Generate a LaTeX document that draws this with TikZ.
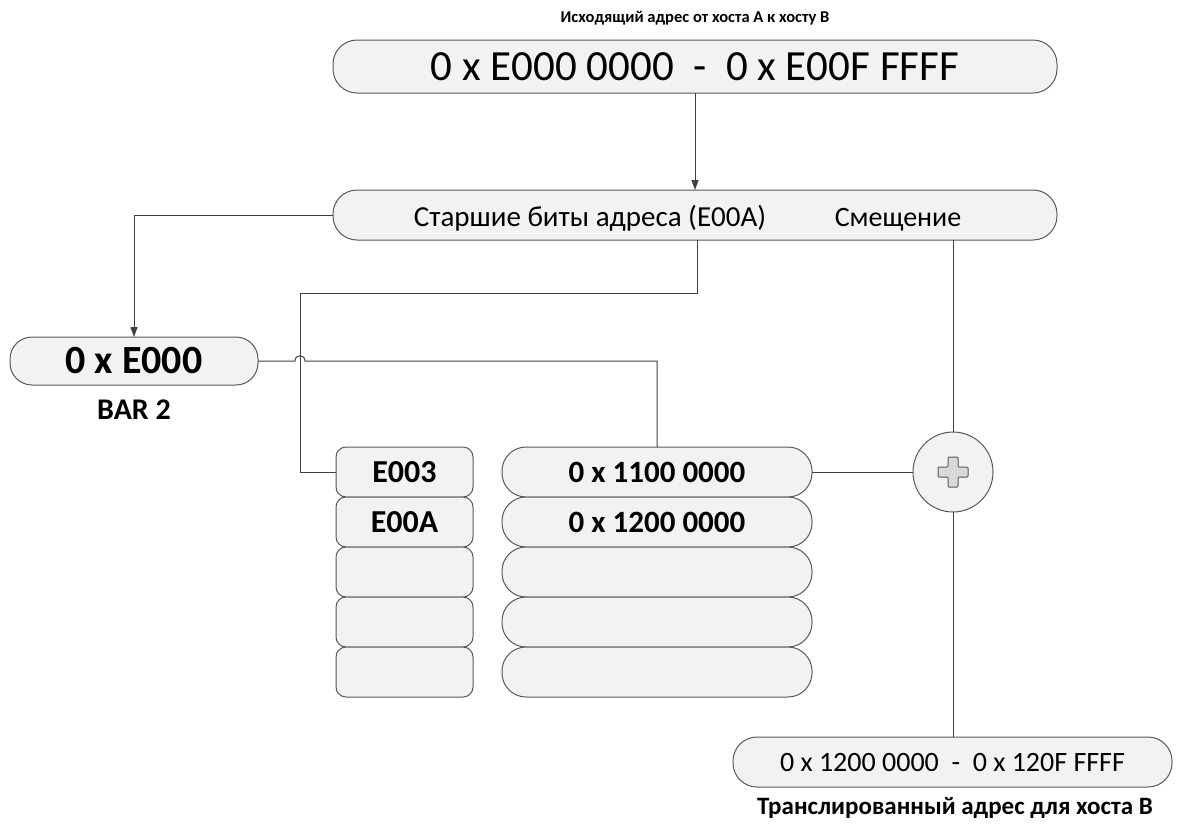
\documentclass[tikz,border=0pt]{standalone}
\usepackage{fontspec}
\setmainfont{Carlito}
\usetikzlibrary{arrows.meta}

\definecolor{boxfill}{HTML}{F2F2F2}
\definecolor{boxline}{HTML}{595959}
\definecolor{wireline}{HTML}{404040}
\definecolor{plusfill}{HTML}{D9D9D9}

\begin{document}
\begin{tikzpicture}[x=1pt, y=-1pt,
  every node/.style = {inner sep=0pt, outer sep=0pt},
  pill/.style = {draw=boxline, fill=boxfill, line width=1pt,
    rounded corners=#1},
  pill/.default = 24pt,
  caption/.style = {font=\fontsize{16.5}{20}\selectfont\bfseries},
  wire/.style = {draw=wireline, line width=1pt},
  arrow/.style = {wire, -{Triangle[length=10pt, width=7pt]}}]
  \useasboundingbox (0,0) rectangle (1177,823);

  % source address
  \node[caption] (srclabel) at (695,18) {Исходящий адрес от хоста А к хосту В};
  \node[pill, minimum width=724pt, minimum height=53pt,
    font=\fontsize{43}{46}\selectfont] (srcbox) at (695,66.5)
    {0 x E000 0000\ \ -\ \ 0 x E00F FFFF};

  % split of the address
  \node[pill, minimum width=724pt, minimum height=50pt] (splitbar) at (695,215) {};
  \node[anchor=base, font=\fontsize{29}{32}\selectfont] (hibits) at (590,226)
    {Старшие биты адреса (E00A)};
  \node[anchor=base, font=\fontsize{28}{32}\selectfont] (offset) at (898,226)
    {Смещение};

  % BAR register
  \node[pill=22pt, minimum width=248pt, minimum height=48pt,
    font=\fontsize{40}{44}\selectfont\bfseries] (barbox) at (134,361) {0 x E000};
  \node[font=\fontsize{30}{34}\selectfont\bfseries] (barlabel) at (134,410) {BAR 2};

  % lookup tables
  \foreach \key [count=\i] in {E003,E00A,{},{},{}}
    \node[pill=10pt, minimum width=137pt, minimum height=50pt,
      font=\fontsize{32}{36}\selectfont\bfseries] (key\i)
      at (404.5,{472+50*(\i-1)}) {\key};
  \foreach \addr [count=\i] in {0 x 1100 0000,0 x 1200 0000,{},{},{}}
    \node[pill, minimum width=310pt, minimum height=50pt,
      font=\fontsize{31}{36}\selectfont\bfseries] (addr\i)
      at (657,{472+50*(\i-1)}) {\addr};

  % adder
  \node[draw=boxline, fill=boxfill, line width=1pt, circle,
    minimum size=80pt] (adder) at (953,472) {};
  \draw[draw=boxline, fill=plusfill, line width=1pt, rounded corners=1pt]
    (adder.center) ++(-5,-15) -- ++(10,0) -- ++(0,10) -- ++(10,0)
    -- ++(0,10) -- ++(-10,0) -- ++(0,10) -- ++(-10,0) -- ++(0,-10)
    -- ++(-10,0) -- ++(0,-10) -- ++(10,0) -- cycle;

  % translated address
  \node[pill, minimum width=439pt, minimum height=50pt,
    font=\fontsize{28}{32}\selectfont] (dstbox) at (952.5,762)
    {0 x 1200 0000\ \ -\ \ 0 x 120F FFFF};
  \node[caption, font=\fontsize{25}{28}\selectfont\bfseries] (dstlabel)
    at (955,808) {Транслированный адрес для хоста В};

  % connectors
  \draw[arrow] (srcbox.south) -- (splitbar.north);
  \draw[arrow] (splitbar.west) -| (barbox.north);
  \draw[wire] ([xshift=2pt]splitbar.south) -- ++(0,53)
    -| ([xshift=-36pt]key1.west) -- (key1.west);
  \draw[wire] (barbox.east) -- ++(37,0) .. controls +(0,-7) and +(0,-7) .. ++(10,0)
    -| (addr1.north);
  \draw[wire] (adder.north |- splitbar.south) -- (adder.north);
  \draw[wire] (addr1.east) -- (adder.west);
  \draw[wire] (adder.south) -- (adder.south |- dstbox.north);
\end{tikzpicture}
\end{document}
